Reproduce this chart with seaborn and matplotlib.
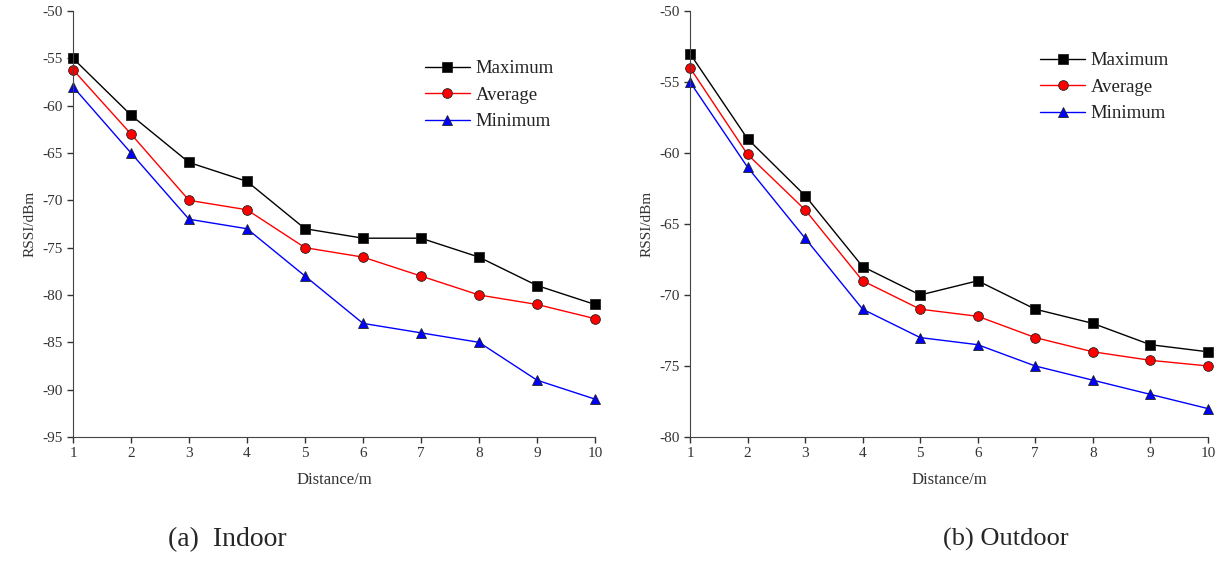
import numpy as np
import pandas as pd
import matplotlib.pyplot as plt
import seaborn as sns

distance = list(range(1, 11))
series_names = ["Maximum", "Average", "Minimum"]

indoor_max = [-55, -61, -66, -68, -73, -74, -74, -76, -79, -81]
indoor_avg = [-56.2, -63, -70, -71, -75, -76, -78, -80, -81, -82.5]
indoor_min = [-58, -65, -72, -73, -78, -83, -84, -85, -89, -91]

outdoor_max = [-53, -59, -63, -68, -70, -69, -71, -72, -73.5, -74]
outdoor_avg = [-54, -60.1, -64, -69, -71, -71.5, -73, -74, -74.6, -75]
outdoor_min = [-55, -61, -66, -71, -73, -73.5, -75, -76, -77, -78]


def to_long(mx, av, mn):
    rows = []
    for name, vals in zip(series_names, (mx, av, mn)):
        for d, v in zip(distance, vals):
            rows.append({"distance": d, "rssi": v, "series": name})
    return pd.DataFrame(rows)


sns.set_style("ticks")
plt.rcParams["font.family"] = ["Liberation Serif", "DejaVu Serif"]
plt.rcParams["axes.unicode_minus"] = False

palette = {"Maximum": "black", "Average": "red", "Minimum": "blue"}
markers = {"Maximum": "s", "Average": "o", "Minimum": "^"}

fig = plt.figure(figsize=(12.21, 5.64), dpi=100)
ax1 = fig.add_axes([0.0598, 0.2252, 0.4275, 0.7553])
ax2 = fig.add_axes([0.5651, 0.2252, 0.4242, 0.7553])

panels = [
    (ax1, to_long(indoor_max, indoor_avg, indoor_min), (-95, -50), (0.674, 0.885)),
    (ax2, to_long(outdoor_max, outdoor_avg, outdoor_min), (-80, -50), (0.676, 0.903)),
]

for ax, df, ylim, leg_pos in panels:
    sns.lineplot(data=df, x="distance", y="rssi", hue="series", style="series",
                 palette=palette, markers=markers, dashes=False, ax=ax,
                 linewidth=1.0, markersize=7, markeredgewidth=0.6,
                 markeredgecolor="#222222")
    for line in ax.lines:
        line.set_clip_on(False)
    ax.set_xlim(1, 10)
    ax.set_ylim(*ylim)
    ax.set_xticks(distance)
    ax.set_yticks(np.arange(ylim[0], ylim[1] + 1, 5))
    ax.tick_params(direction="out", length=4, width=1, labelsize=11, colors="#333333")
    sns.despine(ax=ax)
    for s in ("left", "bottom"):
        ax.spines[s].set_color("#444444")
    ax.set_xlabel("Distance/m", fontsize=12, color="#333333", labelpad=8)
    ax.set_ylabel("RSSI/dBm", fontsize=11, color="#333333", labelpad=4)
    leg = ax.legend(loc="upper left", bbox_to_anchor=leg_pos, frameon=False,
                    fontsize=13.5, handlelength=2.4, handletextpad=0.3,
                    labelspacing=0.5, borderaxespad=0, borderpad=0)
    for t in leg.get_texts():
        t.set_color("#222222")

fig.text(0.186, 0.043, "(a)  Indoor", fontsize=20, ha="center", va="center")
fig.text(0.824, 0.043, "(b) Outdoor", fontsize=19, ha="center", va="center")

plt.savefig("out.png", dpi=100)
